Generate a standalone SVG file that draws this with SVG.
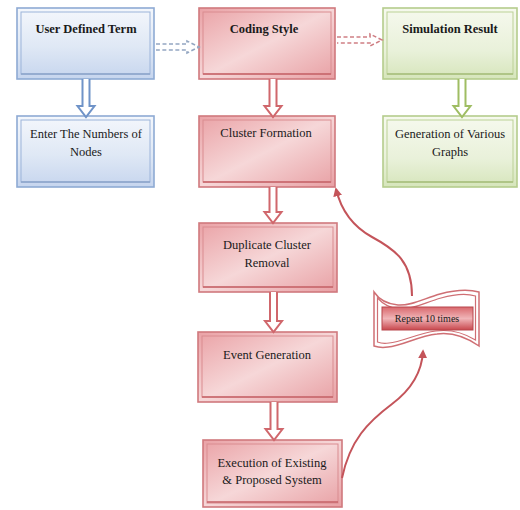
<svg xmlns="http://www.w3.org/2000/svg" width="520" height="510" viewBox="0 0 520 510">
<defs>
<linearGradient id="gBlue" x1="0" y1="0" x2="0" y2="1">
<stop offset="0" stop-color="#f4f7fc"/><stop offset="0.55" stop-color="#dfe8f5"/><stop offset="1" stop-color="#c6d5ee"/>
</linearGradient>
<linearGradient id="gRed" x1="0" y1="0" x2="1" y2="1">
<stop offset="0" stop-color="#eaa2a6"/><stop offset="0.5" stop-color="#f6d7d8"/><stop offset="1" stop-color="#e8a0a4"/>
</linearGradient>
<linearGradient id="gGreen" x1="0" y1="0" x2="0" y2="1">
<stop offset="0" stop-color="#f6f9ee"/><stop offset="0.6" stop-color="#e9f1da"/><stop offset="1" stop-color="#d6e5bb"/>
</linearGradient>
<linearGradient id="gBanner" x1="0" y1="0" x2="0" y2="1">
<stop offset="0" stop-color="#d9686d"/><stop offset="0.5" stop-color="#f0b5b8"/><stop offset="1" stop-color="#c8474d"/>
</linearGradient>
<marker id="ah" viewBox="0 0 10 10" refX="8" refY="5" markerWidth="4.5" markerHeight="4.5" orient="auto">
<path d="M0,0 L10,5 L0,10 Z" fill="#c4545a"/>
</marker>
<style>
.blue .o{fill:url(#gBlue);stroke:#8eaad4;stroke-width:1.6}
.blue .i{fill:none;stroke:#9cb4da;stroke-width:1}
.red .o{fill:url(#gRed);stroke:#d0797d;stroke-width:1.6}
.red .i{fill:none;stroke:#d98c90;stroke-width:1}
.green .o{fill:url(#gGreen);stroke:#b5cc8c;stroke-width:1.6}
.green .i{fill:none;stroke:#bcd196;stroke-width:1}
.sh{stroke-width:2;opacity:0.8}
text{font-family:'Liberation Serif','DejaVu Serif',serif;font-size:12.5px;fill:#1a1a1a;text-anchor:middle}
.b{font-weight:bold}
.blk{fill:#fff;stroke-width:2;stroke-linejoin:miter}
.dash{fill:none;stroke-width:1.6;stroke-dasharray:4 2.5}
.curve{fill:none;stroke:#c4545a;stroke-width:2;marker-end:url(#ah)}
</style>
</defs>
<rect width="520" height="510" fill="#fff"/>

<g font-family="Liberation Serif, serif">
<g id="user-defined-term" class="blue">
<rect class="o" x="17" y="8" width="137" height="71"/>
<rect class="i" x="21" y="12" width="129" height="62"/>
<line class="sh" x1="21" y1="74" x2="150" y2="74" stroke="#8ea6cc"/>
<text class="b" x="86" y="33">User Defined Term</text>
</g>
<g id="enter-nodes" class="blue">
<rect class="o" x="17" y="116" width="137" height="71"/>
<rect class="i" x="21" y="120" width="129" height="62"/>
<line class="sh" x1="21" y1="182" x2="150" y2="182" stroke="#8ea6cc"/>
<text x="86" y="138">Enter The Numbers of</text>
<text x="86" y="156">Nodes</text>
</g>
<g id="coding-style" class="red">
<rect class="o" x="199" y="8" width="136" height="71"/>
<rect class="i" x="203" y="12" width="128" height="62"/>
<line class="sh" x1="203" y1="74" x2="331" y2="74" stroke="#c9686d"/>
<text class="b" x="264" y="33">Coding Style</text>
</g>
<g id="simulation-result" class="green">
<rect class="o" x="383" y="8" width="134" height="71"/>
<rect class="i" x="387" y="12" width="126" height="62"/>
<line class="sh" x1="387" y1="74" x2="513" y2="74" stroke="#a9c07e"/>
<text class="b" x="450" y="33">Simulation Result</text>
</g>
<g id="generation-graphs" class="green">
<rect class="o" x="383" y="116" width="134" height="71"/>
<rect class="i" x="387" y="120" width="126" height="62"/>
<line class="sh" x1="387" y1="182" x2="513" y2="182" stroke="#a9c07e"/>
<text x="450" y="138">Generation of Various</text>
<text x="450" y="156">Graphs</text>
</g>
<g id="cluster-formation" class="red">
<rect class="o" x="199" y="116" width="136" height="71"/>
<rect class="i" x="203" y="120" width="128" height="62"/>
<line class="sh" x1="203" y1="182" x2="331" y2="182" stroke="#c9686d"/>
<text x="266" y="137">Cluster Formation</text>
</g>
<g id="duplicate-removal" class="red">
<rect class="o" x="199" y="223" width="138" height="69"/>
<rect class="i" x="203" y="227" width="130" height="60"/>
<line class="sh" x1="203" y1="287" x2="333" y2="287" stroke="#c9686d"/>
<text x="267" y="249">Duplicate Cluster</text>
<text x="267" y="267">Removal</text>
</g>
<g id="event-generation" class="red">
<rect class="o" x="198" y="332" width="139" height="70"/>
<rect class="i" x="202" y="336" width="131" height="61"/>
<line class="sh" x1="202" y1="397" x2="333" y2="397" stroke="#c9686d"/>
<text x="267" y="359">Event Generation</text>
</g>
<g id="execution" class="red">
<rect class="o" x="203" y="440" width="139" height="67"/>
<rect class="i" x="207" y="444" width="131" height="59"/>
<line class="sh" x1="207" y1="502" x2="338" y2="502" stroke="#c9686d"/>
<text x="272" y="467">Execution of Existing</text>
<text x="272" y="484">&amp; Proposed System</text>
</g>
<g id="repeat-banner">
<path d="M374,292 C378,298 386,304 398,305 C412,306 425,298 440,294 C455,290 468,289 479,292 L479,346 C466,337 452,332 437,334 C418,336 402,346 388,347 C381,348 377,347 374,346 Z" fill="#fff" stroke="#cf6f74" stroke-width="1.5"/>
<path d="M377.5,298 C382,303 389,308 399,309 C413,310 426,302 441,298 C455,294 466,293 475.5,296 L475.5,340 C464,333 451,329 436,331 C418,333 402,342 389,343 C383,344 380,343 377.5,342 Z" fill="#fff" stroke="#cf6f74" stroke-width="1.2"/>
<rect x="382" y="307" width="91" height="23" fill="url(#gBanner)" stroke="#b8464c" stroke-width="1"/>
<text x="427" y="322" style="font-size:10px">Repeat 10 times</text>
</g>
</g>

<g id="connectors">
<path class="blk" stroke="#6f93c8" d="M82.5,79 V106 H77.5 L86,117 L94.5,106 H89.5 V79"/>
<path class="blk" stroke="#d0676c" d="M269.5,79 V106 H264.5 L273,117 L281.5,106 H276.5 V79"/>
<path class="blk" stroke="#9fbd63" d="M458.5,79 V106 H453.5 L462,117 L470.5,106 H465.5 V79"/>
<path class="blk" stroke="#d0676c" d="M269.5,187 V212 H264.5 L273,223 L281.5,212 H276.5 V187"/>
<path class="blk" stroke="#d0676c" d="M270,292 V321 H265 L273.5,332 L282,321 H277 V292"/>
<path class="blk" stroke="#d0676c" d="M270.5,402 V429 H265.5 L274,440 L282.5,429 H277.5 V402"/>
<path class="dash" stroke="#94a7c2" d="M156,44 H187 V41 L199,47 L187,53 V50 H156"/>
<path class="dash" stroke="#cf7f84" d="M337,37 H370 V34 L382,40 L370,46 V43 H337"/>
<path class="curve" d="M342,478 C350,440 368,422 392,404 C412,389 422,372 423,351"/>
<path class="curve" d="M412,296 C412,262 396,250 372,237 C352,226 341,210 336,189"/>
</g>
</svg>
